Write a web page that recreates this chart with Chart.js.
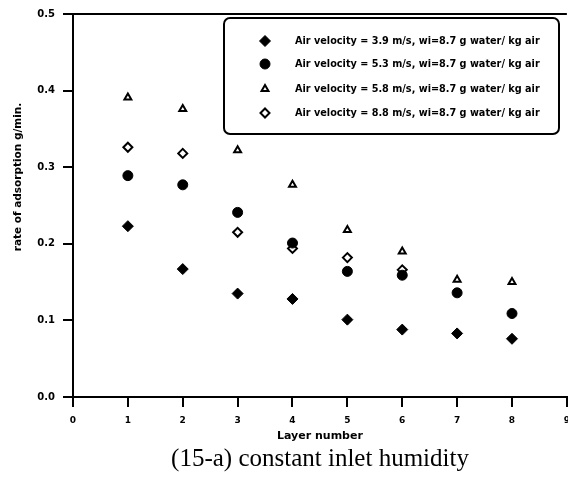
<!DOCTYPE html>
<html>
<head>
<meta charset="utf-8">
<script src="https://cdn.jsdelivr.net/npm/chart.js@4.4.0/dist/chart.umd.min.js"></script>
<style>
    html, body { margin: 0; padding: 0; background: #fff; overflow: hidden; }
    #wrap { position: relative; width: 568px; height: 478px; overflow: hidden; }
    #chart { position: absolute; left: 0; top: 0; }
    #caption {
        position: absolute; left: 0; top: 444px; width: 640px;
        text-align: center; font: 25px "Liberation Serif", "DejaVu Serif", serif; color: #000;
    }
</style>
</head>
<body>
<div id="wrap">
    <canvas id="chart" width="578" height="450"></canvas>
    <div id="caption">(15-a) constant inlet humidity</div>
</div>
<script>
// Layer numbers and adsorption rates (g/min)
const layers = [1, 2, 3, 4, 5, 6, 7, 8];
const seriesLabels = [
    'Air velocity = 3.9 m/s, wi=8.7 g water/ kg air',
    'Air velocity = 5.3 m/s, wi=8.7 g water/ kg air',
    'Air velocity = 5.8 m/s, wi=8.7 g water/ kg air',
    'Air velocity = 8.8 m/s, wi=8.7 g water/ kg air'
];
const rate39 = [0.223, 0.167, 0.135, 0.128, 0.101, 0.088, 0.083, 0.076];
const rate53 = [0.289, 0.277, 0.241, 0.201, 0.164, 0.159, 0.136, 0.109];
const rate58 = [0.391, 0.376, 0.322, 0.277, 0.218, 0.190, 0.153, 0.150];
const rate88 = [0.326, 0.318, 0.215, 0.194, 0.182, 0.166];
const yTicks = [0, 0.1, 0.2, 0.3, 0.4, 0.5];
const yTitle = 'rate of adsorption g/min.';

const FONT = '"DejaVu Sans", Verdana, sans-serif';

const toPoints = vals => vals.map((v, i) => ({ x: layers[i], y: v }));

const styles = [
    { pointStyle: 'rectRot', radius: 5.5, backgroundColor: '#000', borderColor: '#000', borderWidth: 1 },
    { pointStyle: 'circle', radius: 5, backgroundColor: '#000', borderColor: '#000', borderWidth: 1 },
    { pointStyle: 'triangle', radius: 4, backgroundColor: '#fff', borderColor: '#000', borderWidth: 2 },
    { pointStyle: 'rectRot', radius: 4.5, backgroundColor: '#fff', borderColor: '#000', borderWidth: 2 }
];

const datasets = [rate39, rate53, rate58, rate88].map((vals, i) => ({
    label: seriesLabels[i],
    data: toPoints(vals),
    showLine: false,
    pointStyle: styles[i].pointStyle,
    pointRadius: styles[i].radius,
    pointBackgroundColor: styles[i].backgroundColor,
    pointBorderColor: styles[i].borderColor,
    pointBorderWidth: styles[i].borderWidth
}));

// top border of the frame + y axis title (sits above centre in the original)
const framePlugin = {
    id: 'frame',
    afterDraw(chart) {
        const { ctx, chartArea } = chart;
        ctx.save();
        ctx.strokeStyle = '#000';
        ctx.lineWidth = 2;
        ctx.beginPath();
        ctx.moveTo(chartArea.left, chartArea.top);
        ctx.lineTo(chartArea.right, chartArea.top);
        ctx.stroke();

        ctx.translate(18, 177);
        ctx.rotate(-Math.PI / 2);
        ctx.fillStyle = '#000';
        ctx.font = 'bold 10.5px ' + FONT;
        ctx.textAlign = 'center';
        ctx.textBaseline = 'middle';
        ctx.fillText(yTitle, 0, 0);
        ctx.restore();
    }
};

// boxed legend in the upper right
const boxLegend = {
    id: 'boxLegend',
    afterDraw(chart) {
        const ctx = chart.ctx;
        ctx.save();
        ctx.fillStyle = '#fff';
        ctx.strokeStyle = '#000';
        ctx.lineWidth = 2;
        ctx.beginPath();
        ctx.roundRect(224, 18, 335, 116, 6);
        ctx.fill();
        ctx.stroke();
        const rows = [41, 64, 89, 113];
        ctx.font = 'bold 9.7px ' + FONT;
        ctx.textBaseline = 'middle';
        ctx.textAlign = 'left';
        chart.data.datasets.forEach((ds, i) => {
            ctx.fillStyle = ds.pointBackgroundColor;
            ctx.strokeStyle = ds.pointBorderColor;
            ctx.lineWidth = ds.pointBorderWidth;
            Chart.helpers.drawPoint(ctx, {
                pointStyle: ds.pointStyle,
                radius: ds.pointRadius,
                rotation: 0,
                borderWidth: ds.pointBorderWidth
            }, 265, rows[i]);
            ctx.fillStyle = '#000';
            ctx.fillText(ds.label, 295, rows[i]);
        });
        ctx.restore();
    }
};

new Chart(document.getElementById('chart'), {
    type: 'scatter',
    data: { datasets },
    plugins: [framePlugin, boxLegend],
    options: {
        responsive: false,
        animation: false,
        layout: { padding: { top: 8, left: 0, right: 0, bottom: 0 } },
        plugins: {
            legend: { display: false },
            tooltip: { enabled: false }
        },
        scales: {
            x: {
                type: 'linear',
                min: 0,
                max: 9,
                afterFit: scale => { scale.height = 53; },
                ticks: {
                    stepSize: 1,
                    color: '#000',
                    padding: 8,
                    font: { family: FONT, size: 9, weight: 'bold' }
                },
                grid: { drawOnChartArea: false, drawTicks: true, tickLength: 10, color: '#000', lineWidth: 2 },
                border: { display: true, color: '#000', width: 2 },
                title: {
                    display: true,
                    text: 'Layer number',
                    color: '#000',
                    padding: { top: 0, bottom: 7 },
                    font: { family: FONT, size: 11, weight: 'bold' }
                }
            },
            y: {
                min: 0,
                max: 0.5,
                afterFit: scale => { scale.width = 73; },
                afterBuildTicks: scale => { scale.ticks = yTicks.map(v => ({ value: v })); },
                ticks: {
                    color: '#000',
                    padding: 8,
                    callback: v => v.toFixed(1),
                    font: { family: FONT, size: 10, weight: 'bold' }
                },
                grid: { drawOnChartArea: false, drawTicks: true, tickLength: 10, color: '#000', lineWidth: 2 },
                border: { display: true, color: '#000', width: 2 }
            }
        }
    }
});
</script>
</body>
</html>
